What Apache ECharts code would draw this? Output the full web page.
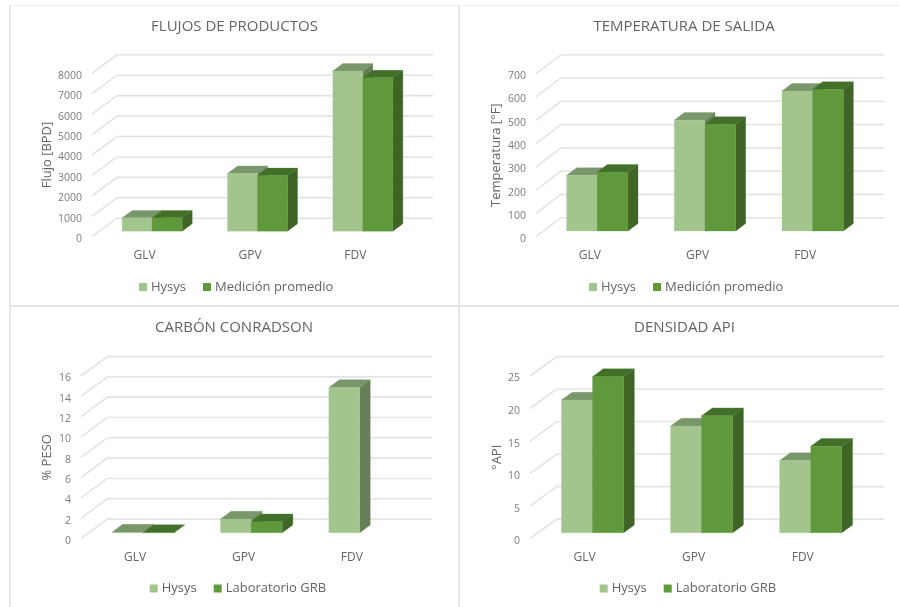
<!DOCTYPE html>
<html>
<head>
<meta charset="utf-8">
<style>
  html, body { margin: 0; padding: 0; background: #fff; }
  #chart { width: 899px; height: 607px; }
</style>
<script src="https://cdn.jsdelivr.net/npm/echarts@6/dist/echarts.min.js"></script>
</head>
<body>
<div id="chart"></div>
<script>
// Product comparison across the three distillation cuts
const categories = ['GLV', 'GPV', 'FDV'];

const flujoHysys = [650, 2825, 7840];
const flujoMedicion = [650, 2725, 7510];

const temperaturaHysys = [239, 476, 601];
const temperaturaMedicion = [253, 458, 608];

const carbonHysys = [0.06, 1.35, 14.3];
const carbonLaboratorio = [0.02, 1.08, null];

const apiHysys = [20.4, 16.4, 11.1];
const apiLaboratorio = [24.0, 18.0, 13.3];

const FONT = '"Open Sans", sans-serif';
const TEXT = '#646464';
const TICK = '#7c7c7c';
const WALL = '#e4e4e4';

// Face colours of the pseudo-3D columns
const FACES_LIGHT = { front: '#a2c58e', top: '#78976a', side: '#667f58' };
const FACES_DARK = { front: '#5f993c', top: '#437028', side: '#3e6426' };

// Each panel: front floor edge of the plot (grid), receding depth of the floor,
// and the legend / axis-title placement
const panels = [
  {
    title: 'FLUJOS DE PRODUCTOS', titleX: 234.5, titleY: 19,
    yName: 'Flujo [BPD]', nameGap: 38, max: 8000, interval: 1000,
    left: 92, right: 408, top: 73.3, bottom: 236.7, dx: 25, dy: 18.5,
    names: ['Hysys', 'Medición promedio'], a: flujoHysys, b: flujoMedicion,
    legendX: 139, legendY: 280.5
  },
  {
    title: 'TEMPERATURA DE SALIDA', titleX: 684, titleY: 19,
    yName: 'Temperatura [°F]', nameGap: 33, max: 700, interval: 100,
    left: 536, right: 859, top: 73.7, bottom: 236.7, dx: 25, dy: 19,
    names: ['Hysys', 'Medición promedio'], a: temperaturaHysys, b: temperaturaMedicion,
    legendX: 589, legendY: 280.5
  },
  {
    title: 'CARBÓN CONRADSON', titleX: 234, titleY: 320,
    yName: '% PESO', nameGap: 27, max: 16, interval: 2,
    left: 81, right: 406, top: 376, bottom: 538.6, dx: 26.3, dy: 19.5,
    names: ['Hysys', 'Laboratorio GRB'], a: carbonHysys, b: carbonLaboratorio,
    legendX: 149.7, legendY: 582
  },
  {
    title: 'DENSIDAD API', titleX: 684.5, titleY: 320,
    yName: '°API', nameGap: 25, max: 25, interval: 5,
    left: 530, right: 857.3, top: 376, bottom: 538.6, dx: 26.7, dy: 19.5,
    names: ['Hysys', 'Laboratorio GRB'], a: apiHysys, b: apiLaboratorio,
    legendX: 599.7, legendY: 582
  }
];

// Columns sit 30% into the floor and use 40% of its depth
const COLUMN_START = 0.3;
const COLUMN_DEPTH = 0.4;
const COLUMNS_PER_BAND = 0.57;

function poly(points, fill) {
  return { type: 'polygon', shape: { points }, style: { fill, stroke: fill, lineWidth: 0.3 } };
}

// Back wall and side wall rule for one value tick
function wallRenderer(panel) {
  return function (params, api) {
    const y = api.coord([0, api.value(1)])[1];
    const sys = params.coordSys;
    const xLeft = sys.x;
    const xRight = sys.x + sys.width;
    return {
      type: 'polyline',
      shape: { points: [[xLeft, y], [xLeft + panel.dx, y - panel.dy], [xRight + panel.dx, y - panel.dy]] },
      style: { stroke: WALL, lineWidth: 1.6, fill: null },
      silent: true
    };
  };
}

// One column drawn as front, side and top faces; slot 0 is left of the band centre, slot 1 right of it
function columnRenderer(panel, slot, faces) {
  return function (params, api) {
    const cat = api.value(0);
    const val = api.value(1);
    if (val === null || isNaN(val)) return null;
    const band = api.size([1, 0])[0];
    const w = band * COLUMNS_PER_BAND / 2;
    const sx = panel.dx * COLUMN_START;
    const sy = panel.dy * COLUMN_START;
    const cx = panel.dx * COLUMN_DEPTH;
    const cy = panel.dy * COLUMN_DEPTH;
    const centre = api.coord([cat, 0]);
    const top = api.coord([cat, val])[1] - sy;
    const base = centre[1] - sy;
    const x0 = centre[0] + sx + (slot - 1) * w;
    const x1 = x0 + w;
    return {
      type: 'group',
      children: [
        poly([[x1, base], [x1 + cx, base - cy], [x1 + cx, top - cy], [x1, top]], faces.side),
        poly([[x0, top], [x1, top], [x1 + cx, top - cy], [x0 + cx, top - cy]], faces.top),
        poly([[x0, base], [x1, base], [x1, top], [x0, top]], faces.front)
      ]
    };
  };
}

const title = [], grid = [], xAxis = [], yAxis = [], legend = [], series = [];

panels.forEach(function (p, i) {
  title.push({
    text: p.title, left: p.titleX, top: p.titleY, textAlign: 'center', padding: 0,
    textStyle: { fontFamily: FONT, fontSize: 15, fontWeight: 'normal', color: TEXT }
  });
  grid.push({ left: p.left, top: p.top, width: p.right - p.left, height: p.bottom - p.top });
  xAxis.push({
    type: 'category', gridIndex: i, data: categories,
    axisLine: { show: false }, axisTick: { show: false }, splitLine: { show: false },
    axisLabel: { margin: 13, fontFamily: FONT, fontSize: 12, color: TEXT }
  });
  yAxis.push({
    type: 'value', gridIndex: i, min: 0, max: p.max, interval: p.interval,
    name: p.yName, nameLocation: 'middle', nameGap: p.nameGap,
    nameTextStyle: { fontFamily: FONT, fontSize: 13, color: TEXT },
    axisLine: { show: false }, axisTick: { show: false }, splitLine: { show: false },
    axisLabel: {
      margin: 10,
      formatter: function (v) { return '{n|' + v + '}'; },
      rich: { n: { fontFamily: FONT, fontSize: 10.5, color: TICK, padding: [5, 0, 0, 0] } }
    }
  });
  legend.push({
    data: p.names, left: p.legendX, top: p.legendY, padding: 0, orient: 'horizontal',
    itemWidth: 8, itemHeight: 8, itemGap: 17, icon: 'rect', selectedMode: false,
    textStyle: { fontFamily: FONT, fontSize: 13, color: TEXT, padding: [0, 0, 0, -1] }
  });

  const ticks = [];
  for (let v = 0; v <= p.max; v += p.interval) ticks.push([0, v]);
  series.push({
    type: 'custom', xAxisIndex: i, yAxisIndex: i, data: ticks, clip: false, silent: true,
    z: 1, renderItem: wallRenderer(p), encode: { x: 0, y: 1 }
  });
  [[p.a, FACES_LIGHT, 0], [p.b, FACES_DARK, 1]].forEach(function (entry, k) {
    series.push({
      type: 'custom', name: p.names[k], xAxisIndex: i, yAxisIndex: i, clip: false, z: 2 + k,
      itemStyle: { color: entry[1].front },
      data: categories.map(function (c, j) { return [j, entry[0][j]]; }),
      renderItem: columnRenderer(p, entry[2], entry[1]), encode: { x: 0, y: 1 }
    });
  });
});

// Panel frame rules
function rule(x1, y1, x2, y2, stroke) {
  return { type: 'line', silent: true, shape: { x1, y1, x2, y2 }, style: { stroke: stroke, lineWidth: 2 } };
}

const chart = echarts.init(document.getElementById('chart'), null, { renderer: 'canvas' });
chart.setOption({
  backgroundColor: '#ffffff',
  animation: false,
  title, grid, xAxis, yAxis, legend, series,
  graphic: [
    rule(10, 5, 10, 607, '#e6e6e6'),
    rule(459, 5, 459, 607, '#e6e6e6'),
    rule(10, 306, 899, 306, '#e6e6e6'),
    { type: 'line', silent: true, shape: { x1: 10, y1: 5.5, x2: 899, y2: 5.5 }, style: { stroke: '#f1f1f1', lineWidth: 1 } }
  ]
});
</script>
</body>
</html>
